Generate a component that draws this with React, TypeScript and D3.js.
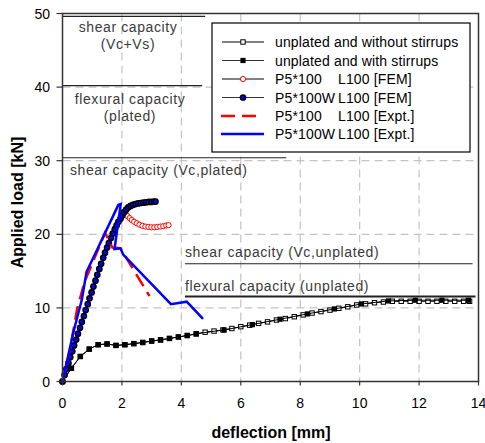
import React from "react";
import * as d3 from "d3";

const W = 485;
const H = 443;
const M = { left: 62.5, right: 478.5, top: 13.5, bottom: 381.5 };

const xTicks = [0, 2, 4, 6, 8, 10, 12, 14];
const yTicks = [0, 10, 20, 30, 40, 50];
const xGrid = [2, 4, 6, 8, 10, 12];
const yGrid = [10, 20, 30, 40];

// unplated and without stirrups (open squares)
const xWithout = [0, 0.3, 0.6, 0.9, 1.2, 1.5, 1.8, 2.1, 2.4, 2.7, 3.0, 3.3, 3.6, 3.9, 4.2, 4.5, 4.8, 5.1, 5.4, 5.7, 6.0, 6.3, 6.6, 6.9, 7.2, 7.5, 7.8, 8.1, 8.4, 8.7, 9.0, 9.3, 9.6, 9.9, 10.2, 10.5, 10.8, 11.1, 11.4, 11.7, 12.0, 12.3, 12.6, 12.9, 13.2, 13.5, 13.7];
const yWithout = [0, 1.8, 3.4, 4.4, 5.0, 5.1, 4.9, 5.0, 5.15, 5.3, 5.5, 5.65, 5.85, 6.05, 6.25, 6.45, 6.7, 6.85, 7.0, 7.2, 7.45, 7.65, 7.9, 8.1, 8.35, 8.55, 8.8, 9.05, 9.3, 9.5, 9.7, 9.95, 10.15, 10.4, 10.55, 10.7, 10.8, 10.9, 10.9, 10.9, 10.9, 10.9, 10.9, 10.9, 10.9, 10.9, 10.9];

// unplated and with stirrups (filled squares)
const xWith = [0, 0.3, 0.6, 0.9, 1.2, 1.5, 1.8, 2.1, 2.4, 2.7, 3.0, 3.3, 3.6, 3.9, 4.2, 4.5, 5.44, 6.39, 7.32, 8.24, 9.15, 10.06, 10.97, 11.87, 12.77, 13.66];
const yWith = [0, 1.8, 3.4, 4.4, 5.0, 5.1, 4.9, 5.0, 5.15, 5.3, 5.5, 5.65, 5.85, 6.05, 6.25, 6.5, 7.0, 7.73, 8.46, 9.18, 9.86, 10.54, 10.95, 11.04, 11.04, 11.04];

// P5*100 L100 [FEM] (open red circles)
const xFem100 = [0, 0.07, 0.13, 0.2, 0.26, 0.33, 0.39, 0.46, 0.52, 0.59, 0.65, 0.72, 0.78, 0.85, 0.91, 0.98, 1.04, 1.11, 1.17, 1.24, 1.3, 1.37, 1.43, 1.5, 1.56, 1.63, 1.69, 1.76, 1.82, 1.88, 1.95, 2.01, 2.07, 2.13, 2.19, 2.26, 2.33, 2.41, 2.5, 2.59, 2.69, 2.79, 2.89, 2.99, 3.09, 3.19, 3.29, 3.39, 3.49, 3.57];
const yFem100 = [0, 0.9, 1.7, 2.5, 3.3, 4.1, 4.9, 5.7, 6.5, 7.3, 8.1, 8.9, 9.7, 10.5, 11.3, 12.1, 12.9, 13.7, 14.5, 15.3, 16.0, 16.8, 17.5, 18.2, 18.8, 19.5, 20.1, 20.7, 21.2, 21.7, 22.1, 22.5, 22.8, 22.7, 22.45, 22.2, 21.95, 21.7, 21.5, 21.3, 21.15, 21.05, 21.0, 20.95, 20.95, 21.0, 21.05, 21.1, 21.2, 21.25];

// P5*100W L100 [FEM] (blue filled circles)
const xFem100W = [0, 0.07, 0.13, 0.2, 0.26, 0.33, 0.39, 0.46, 0.52, 0.59, 0.65, 0.72, 0.78, 0.85, 0.91, 0.98, 1.04, 1.11, 1.17, 1.24, 1.3, 1.37, 1.43, 1.5, 1.56, 1.63, 1.69, 1.76, 1.82, 1.88, 1.95, 2.01, 2.07, 2.14, 2.21, 2.29, 2.37, 2.45, 2.54, 2.63, 2.72, 2.81, 2.9, 2.99, 3.08, 3.13];
const yFem100W = [0, 0.9, 1.7, 2.5, 3.3, 4.1, 4.9, 5.7, 6.5, 7.3, 8.1, 8.9, 9.7, 10.5, 11.3, 12.1, 12.9, 13.7, 14.5, 15.3, 16.0, 16.8, 17.5, 18.2, 18.8, 19.5, 20.1, 20.7, 21.2, 21.7, 22.1, 22.6, 23.0, 23.35, 23.65, 23.85, 24.0, 24.1, 24.2, 24.25, 24.3, 24.35, 24.4, 24.4, 24.45, 24.45];

// P5*100 L100 [Expt.] (red dashed)
const xExp100 = [0, 0.25, 0.5, 0.75, 1.43, 1.68, 1.95, 2.93];
const yExp100 = [0, 4.3, 10.0, 13.6, 20.2, 18.2, 18.1, 11.6];

// P5*100W L100 [Expt.] (blue solid)
const xExp100W = [0, 0.14, 0.36, 0.65, 0.81, 1.2, 1.88, 1.96, 1.75, 1.95, 2.05, 3.65, 4.18, 4.73];
const yExp100W = [0, 2.5, 6.6, 11.1, 14.9, 18.2, 24.0, 24.1, 18.0, 18.1, 17.2, 10.5, 10.85, 8.5];

// capacity lines
const capLevel = [49.6, 40.2, 30.4, 16.0, 11.55];
const capFrom = [0, 0, 0, 4.12, 4.12];
const capTo = [4.8, 4.7, 7.53, 13.8, 13.9];
const capWidth = [1.2, 1.2, 1.2, 1.2, 1.8];

const legendLabels = [
  ["unplated and without stirrups", ""],
  ["unplated and with stirrups", ""],
  ["P5*100", "L100 [FEM]"],
  ["P5*100W", "L100 [FEM]"],
  ["P5*100", "L100 [Expt.]"],
  ["P5*100W", "L100 [Expt.]"],
];

const FONT = "Arial, 'Liberation Sans', sans-serif";

type Pt = [number, number];
const zip = (xs: number[], ys: number[]): Pt[] => xs.map((v, i) => [v, ys[i]]);

export default function App() {
  const x = d3.scaleLinear().domain([0, 14]).range([M.left, M.right]);
  const y = d3.scaleLinear().domain([0, 50]).range([M.bottom, M.top]);
  const line = d3
    .line<Pt>()
    .x((d) => x(d[0]))
    .y((d) => y(d[1]));

  const without = zip(xWithout, yWithout);
  const withS = zip(xWith, yWith);
  const fem100 = zip(xFem100, yFem100);
  const fem100W = zip(xFem100W, yFem100W);
  const exp100 = zip(xExp100, yExp100);
  const exp100W = zip(xExp100W, yExp100W);

  const textColor = "#3a3a3a";
  const lgX0 = 222;
  const lgX1 = 264;
  const lgMid = 243;
  const lgRows = [42, 60.5, 79, 97.5, 116, 134];

  return (
    <svg
      width={W}
      height={H}
      style={{ position: "absolute", left: 0, top: 0, background: "#fff" }}
      fontFamily={FONT}
    >
      <rect x={0} y={0} width={W} height={H} fill="#fff" />
      {/* grid */}
      {xGrid.map((v) => (
        <line key={"gx" + v} x1={x(v)} x2={x(v)} y1={M.top} y2={M.bottom} stroke="#c4c4c4" strokeWidth={1.2} strokeDasharray="8,5" />
      ))}
      {yGrid.map((v) => (
        <line key={"gy" + v} x1={M.left} x2={M.right} y1={y(v)} y2={y(v)} stroke="#c4c4c4" strokeWidth={1.2} strokeDasharray="8,5" />
      ))}

      {/* capacity lines */}
      {capLevel.map((v, i) => (
        <line key={"cap" + i} x1={x(capFrom[i])} x2={x(capTo[i])} y1={y(v)} y2={y(v)} stroke="#222" strokeWidth={capWidth[i]} />
      ))}
      <g fill={textColor} fontSize={14} letterSpacing={0.6}>
        <text x={128} y={32} textAnchor="middle">shear capacity</text>
        <text x={128} y={49} textAnchor="middle">(Vc+Vs)</text>
        <text x={130} y={104} textAnchor="middle">flexural capacity</text>
        <text x={130} y={121} textAnchor="middle">(plated)</text>
        <text x={70} y={175}>shear capacity (Vc,plated)</text>
        <text x={185} y={257}>shear capacity (Vc,unplated)</text>
        <text x={185} y={291}>flexural capacity (unplated)</text>
      </g>

      {/* series: without stirrups */}
      <path d={line(without) || ""} fill="none" stroke="#000" strokeWidth={1} />
      {without.map((d, i) => (
        <rect key={"wo" + i} x={x(d[0]) - 2.2} y={y(d[1]) - 2.2} width={4.4} height={4.4} fill="#fff" stroke="#000" strokeWidth={1} />
      ))}
      {/* with stirrups */}
      <path d={line(withS) || ""} fill="none" stroke="#000" strokeWidth={1} />
      {withS.map((d, i) => (
        <rect key={"w" + i} x={x(d[0]) - 2.6} y={y(d[1]) - 2.6} width={5.2} height={5.2} fill="#000" />
      ))}
      {/* FEM P5*100 */}
      <path d={line(fem100) || ""} fill="none" stroke="#000" strokeWidth={1} />
      {fem100.map((d, i) => (
        <circle key={"f1" + i} cx={x(d[0])} cy={y(d[1])} r={2.6} fill="#fff" stroke="#ff0000" strokeWidth={1} />
      ))}
      {/* FEM P5*100W */}
      <path d={line(fem100W) || ""} fill="none" stroke="#000" strokeWidth={1} />
      {fem100W.map((d, i) => (
        <circle key={"f2" + i} cx={x(d[0])} cy={y(d[1])} r={2.6} fill="#0000ff" stroke="#000" strokeWidth={1.5} />
      ))}
      {/* Expt */}
      <path d={line(exp100) || ""} fill="none" stroke="#ff0000" strokeWidth={2.5} strokeDasharray="14,7" />
      <path d={line(exp100W) || ""} fill="none" stroke="#0000ff" strokeWidth={2.5} strokeLinejoin="miter" />

      {/* frame / axes */}
      <rect x={M.left} y={M.top} width={M.right - M.left} height={M.bottom - M.top} fill="none" stroke="#333" strokeWidth={1.5} />
      {yTicks.map((v) => (
        <g key={"yt" + v}>
          <line x1={M.left - 6} x2={M.left} y1={y(v)} y2={y(v)} stroke="#333" strokeWidth={1.2} />
          <text x={50} y={y(v) + 5} textAnchor="end" fontSize={14} fill="#000">{v}</text>
        </g>
      ))}
      {xTicks.map((v) => (
        <g key={"xt" + v}>
          <line x1={x(v)} x2={x(v)} y1={M.bottom} y2={M.bottom + 4} stroke="#333" strokeWidth={1.2} />
          <text x={x(v)} y={408} textAnchor="middle" fontSize={14} fill="#000">{v}</text>
        </g>
      ))}
      <text x={271} y={438} textAnchor="middle" fontSize={16} fontWeight="bold" fill="#000">deflection [mm]</text>
      <text transform={`translate(23,${(M.top + M.bottom) / 2 + 5}) rotate(-90)`} textAnchor="middle" fontSize={16} fontWeight="bold" fill="#000">Applied load [kN]</text>

      {/* legend */}
      <rect x={212} y={23} width={258} height={129} fill="#fff" stroke="#000" strokeWidth={1.2} />
      {lgRows.map((cy, i) => (
        <g key={"lg" + i}>
          {i < 4 && <line x1={lgX0} x2={lgX1} y1={cy} y2={cy} stroke={i === 1 || i === 3 ? "#333" : "#000"} strokeWidth={1} />}
          {i === 0 && <rect x={lgMid - 2.2} y={cy - 2.2} width={4.4} height={4.4} fill="#fff" stroke="#000" />}
          {i === 1 && <rect x={lgMid - 2.6} y={cy - 2.6} width={5.2} height={5.2} fill="#000" />}
          {i === 2 && <circle cx={lgMid} cy={cy} r={2.6} fill="#fff" stroke="#ff0000" />}
          {i === 3 && <circle cx={lgMid} cy={cy} r={2.6} fill="#0000ff" stroke="#000" strokeWidth={1.5} />}
          {i === 4 && <line x1={lgX0 - 1} x2={lgX1 - 6} y1={cy} y2={cy} stroke="#ff0000" strokeWidth={2.5} strokeDasharray="14,7" />}
          {i === 5 && <line x1={lgX0 - 1} x2={lgX1} y1={cy} y2={cy} stroke="#0000ff" strokeWidth={2.5} />}
          <text x={275} y={cy + 5} fontSize={14} letterSpacing={0.15} fill="#000">{legendLabels[i][0]}</text>
          {legendLabels[i][1] && <text x={338} y={cy + 5} fontSize={14} letterSpacing={0.15} fill="#000">{legendLabels[i][1]}</text>}
        </g>
      ))}
    </svg>
  );
}
